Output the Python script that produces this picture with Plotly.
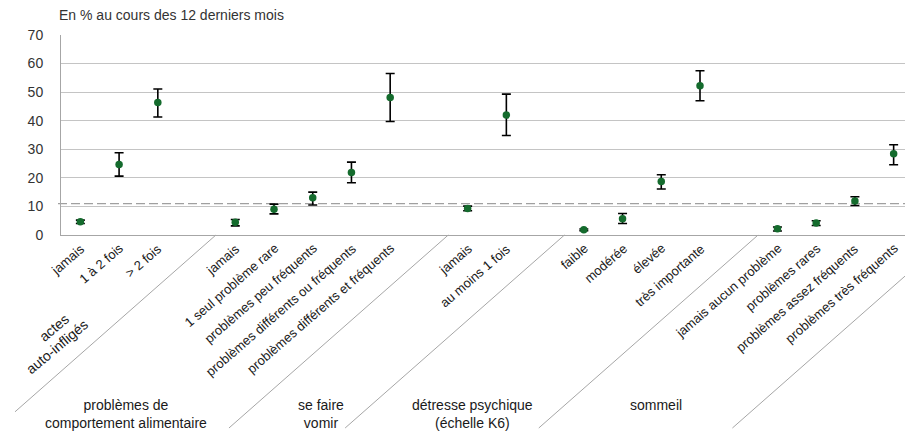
import plotly.graph_objects as go

# ---------------- data ----------------
group_names = ["actes<br>auto-infligés",
               "problèmes de<br>comportement alimentaire",
               "se faire<br>vomir",
               "détresse psychique<br>(échelle K6)",
               "sommeil"]

items_actes = ["jamais", "1 à 2 fois", "> 2 fois"]
items_alim = ["jamais", "1 seul problème rare", "problèmes peu fréquents",
              "problèmes différents ou fréquents", "problèmes différents et fréquents"]
items_vomir = ["jamais", "au moins 1 fois"]
items_k6 = ["faible", "modérée", "élevée", "très importante"]
items_sommeil = ["jamais aucun problème", "problèmes rares",
                 "problèmes assez fréquents", "problèmes très fréquents"]

val_actes = [4.6, 24.7, 46.4]
low_actes = [4.0, 20.6, 41.3]
high_actes = [5.2, 28.8, 51.1]

val_alim = [4.5, 9.0, 13.0, 21.9, 48.1]
low_alim = [3.2, 7.4, 10.5, 18.3, 39.7]
high_alim = [5.4, 10.8, 15.0, 25.5, 56.5]

val_vomir = [9.3, 42.0]
low_vomir = [8.5, 34.8]
high_vomir = [10.1, 49.3]

val_k6 = [1.8, 5.7, 18.7, 52.2]
low_k6 = [1.5, 4.0, 16.1, 47.0]
high_k6 = [2.1, 7.5, 21.1, 57.5]

val_sommeil = [2.2, 4.2, 11.9, 28.4]
low_sommeil = [1.4, 3.3, 10.3, 24.6]
high_sommeil = [2.8, 5.0, 13.4, 31.6]

reference_value = 11.0
y_ticks = [0, 10, 20, 30, 40, 50, 60, 70]
title_text = "En % au cours des 12 derniers mois"

# ---------------- layout constants ----------------
# the page adds an 8px body margin, so the figure is drawn 8px smaller
# and every position below is expressed in window pixels minus OFF
OFF = 8
W, H = 913 - OFF, 432 - OFF
ML, MR, MT = 61 - OFF, 0, 35 - OFF
AXIS_Y = 235 - OFF
MB = H - AXIS_Y
PW, PH = W - ML - MR, H - MT - MB
FONT = "Liberation Sans, Arial, Helvetica, sans-serif"
GREEN = "#146b2d"
SLOPE = 0.88          # dy/dx of the slanted separators
ANGLE = -41

groups_items = [items_actes, items_alim, items_vomir, items_k6, items_sommeil]
groups_val = [val_actes, val_alim, val_vomir, val_k6, val_sommeil]
groups_low = [low_actes, low_alim, low_vomir, low_k6, low_sommeil]
groups_high = [high_actes, high_alim, high_vomir, high_k6, high_sommeil]

# slot positions: each group followed by one empty slot
xs, ys, lo, hi, labels, offsets = [], [], [], [], [], []
pos = 0
for items, v, l, h in zip(groups_items, groups_val, groups_low, groups_high):
    offsets.append(pos)
    for j, name in enumerate(items):
        xs.append(pos + j)
        ys.append(v[j]); lo.append(l[j]); hi.append(h[j]); labels.append(name)
    pos += len(items) + 1
n_slots_visible = 22
x_range = [-0.5, n_slots_visible - 0.5]
slot_w = PW / n_slots_visible


def wx(px):  # window px -> figure px
    return px - OFF


def px_of(slot):
    return ML + (slot - x_range[0]) * slot_w


def paper_x(px):
    return (px - ML) / PW


def paper_y(py):
    return (AXIS_Y - py) / PH


fig = go.Figure()

fig.add_trace(go.Scatter(
    x=xs, y=ys, mode="markers",
    marker=dict(color=GREEN, size=7.5),
    error_y=dict(type="data", symmetric=False,
                 array=[h - v for h, v in zip(hi, ys)],
                 arrayminus=[v - l for v, l in zip(ys, lo)],
                 color="#000000", thickness=1.6, width=4.5),
    showlegend=False, hoverinfo="skip"))

shapes = []
# reference dashed line
shapes.append(dict(type="line", xref="paper", yref="y",
                   x0=paper_x(ML - 3), x1=1, y0=reference_value, y1=reference_value,
                   line=dict(color="#a0a0a0", width=1.3, dash="9px,4px"), layer="below"))

# slanted separators between groups (and after the last group)
bottom_py = wx(428)
left_clip = wx(15)
bounds = [offsets[g] - 0.5 for g in range(1, len(offsets))] + [pos - 0.5]
for b in bounds:
    x0 = px_of(b)
    x1 = x0 - (bottom_py - AXIS_Y) / SLOPE
    y1 = bottom_py
    if x1 < left_clip:
        x1 = left_clip
        y1 = AXIS_Y + (x0 - left_clip) * SLOPE
    shapes.append(dict(type="line", xref="paper", yref="paper",
                       x0=paper_x(x0), y0=paper_y(AXIS_Y),
                       x1=paper_x(x1), y1=paper_y(y1),
                       line=dict(color="#a6a6a6", width=1)))

annotations = []
# title
annotations.append(dict(text=title_text, xref="paper", yref="paper",
                        x=paper_x(wx(57)), y=paper_y(wx(15)), xanchor="left", yanchor="middle",
                        showarrow=False, font=dict(family=FONT, size=14, color="#333333")))

# category labels (rotated)
for x, lab in zip(xs, labels):
    annotations.append(dict(text=lab, xref="x", yref="paper", x=x, y=paper_y(wx(238)),
                            xanchor="right", yanchor="top", xshift=10, textangle=ANGLE,
                            showarrow=False, font=dict(family=FONT, size=13, color="#1a1a1a")))

# group labels
group_dx = [0, -13, 8, 4, -6]
first_lines = group_names[0].split("<br>")
first_centers = [(53.5, 327.5), (56.5, 346.5)]
for g, name in enumerate(group_names):
    n = len(groups_items[g])
    cx = px_of(offsets[g] - 0.5) + (n + 1) * slot_w / 2
    if g == 0:
        for line_txt, (lx, ly) in zip(first_lines, first_centers):
            annotations.append(dict(text=line_txt, xref="paper", yref="paper",
                                    x=paper_x(wx(lx)), y=paper_y(wx(ly)), xanchor="center",
                                    yanchor="middle", textangle=-40, showarrow=False,
                                    font=dict(family=FONT, size=14, color="#1a1a1a")))
    else:
        annotations.append(dict(text=name, xref="paper", yref="paper",
                                x=paper_x(cx - 193 + group_dx[g]), y=paper_y(wx(395)),
                                xanchor="center", yanchor="top", align="center", showarrow=False,
                                font=dict(family=FONT, size=14, color="#1a1a1a")))

fig.update_layout(
    width=W, height=H,
    margin=dict(l=ML, r=MR, t=MT, b=MB),
    paper_bgcolor="white", plot_bgcolor="white",
    shapes=shapes, annotations=annotations,
    font=dict(family=FONT, size=14, color="#333333"),
    xaxis=dict(range=x_range, showgrid=False, zeroline=False, showticklabels=False,
               showline=True, linecolor="#a6a6a6", linewidth=1, ticks=""),
    yaxis=dict(range=[0, 70], tickvals=y_ticks, showgrid=True, gridcolor="#c4c4c4",
               gridwidth=1, zeroline=False, showline=True, linecolor="#a6a6a6", linewidth=1,
               ticks="", ticklabelstandoff=14,
               tickfont=dict(family=FONT, size=14, color="#333333")),
)

fig.write_html("out.html")
